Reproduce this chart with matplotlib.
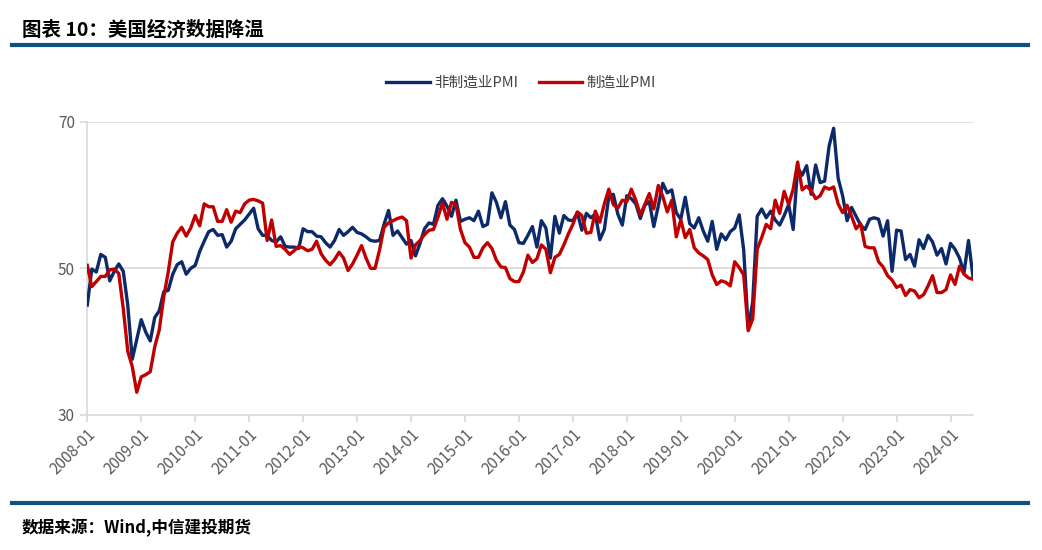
import matplotlib
matplotlib.use("Agg")
import matplotlib.pyplot as plt
import numpy as np

plt.rcParams['font.family'] = ['Noto Sans CJK SC', 'DejaVu Sans']

# ---- data (monthly, 2008-01 .. 2024-06) ----
years = list(range(2008, 2025))
tick_labels = [f"{y}-01" for y in years]

non_mfg_pmi = [
    # 2008
    45.0, 49.9, 49.5, 51.9, 51.5, 48.3, 49.6, 50.6, 49.6, 45.0, 37.6, 40.3,
    # 2009
    43.0, 41.3, 40.1, 43.3, 44.2, 46.8, 47.0, 49.2, 50.5, 50.9, 49.2, 50.0,
    # 2010
    50.4, 52.3, 53.7, 55.0, 55.3, 54.5, 54.6, 52.9, 53.7, 55.4, 56.0, 56.6,
    # 2011
    57.4, 58.2, 55.4, 54.5, 54.5, 53.8, 53.6, 54.3, 53.0, 52.9, 52.9, 52.7,
    # 2012
    55.4, 55.0, 55.0, 54.4, 54.3, 53.5, 52.9, 53.8, 55.3, 54.5, 55.0, 55.6,
    # 2013
    54.9, 54.7, 54.3, 53.8, 53.7, 53.8, 56.0, 57.9, 54.5, 55.1, 54.2, 53.3,
    # 2014
    53.8, 51.7, 53.4, 55.4, 56.2, 56.0, 58.6, 59.5, 58.5, 57.1, 59.3, 56.4,
    # 2015
    56.7, 56.9, 56.5, 57.8, 55.7, 56.0, 60.3, 59.0, 56.9, 59.1, 55.9, 55.3,
    # 2016
    53.5, 53.4, 54.5, 55.7, 52.9, 56.5, 55.5, 51.4, 57.1, 54.8, 57.2, 56.6,
    # 2017
    56.5, 57.6, 55.2, 57.5, 56.9, 57.4, 53.9, 55.3, 59.8, 60.1, 57.4, 55.9,
    # 2018
    59.9, 59.5, 58.8, 56.8, 58.6, 59.1, 55.7, 58.5, 61.6, 60.3, 60.7, 57.6,
    # 2019
    56.7, 59.7, 56.1, 55.5, 56.9, 55.1, 53.7, 56.4, 52.6, 54.7, 53.9, 55.0,
    # 2020
    55.5, 57.3, 52.5, 41.8, 45.4, 57.1, 58.1, 56.9, 57.8, 56.6, 55.9, 57.2,
    # 2021
    58.7, 55.3, 63.7, 62.7, 64.0, 60.1, 64.1, 61.7, 61.9, 66.7, 69.1, 62.3,
    # 2022
    59.9, 56.5, 58.3, 57.1, 55.9, 55.3, 56.7, 56.9, 56.7, 54.4, 56.5, 49.6,
    # 2023
    55.2, 55.1, 51.2, 51.9, 50.3, 53.9, 52.7, 54.5, 53.6, 51.8, 52.7, 50.6,
    # 2024
    53.4, 52.6, 51.4, 49.4, 53.8, 48.8,
]

mfg_pmi = [
    # 2008
    50.4, 47.5, 48.2, 48.9, 48.9, 49.8, 49.9, 49.3, 44.5, 38.7, 36.6, 33.1,
    # 2009
    35.2, 35.5, 35.9, 39.3, 41.6, 46.1, 49.5, 53.6, 54.8, 55.6, 54.4, 55.5,
    # 2010
    57.2, 55.8, 58.8, 58.4, 58.4, 56.4, 56.4, 58.0, 56.3, 57.8, 57.6, 58.8,
    # 2011
    59.3, 59.4, 59.2, 58.9, 53.8, 56.6, 53.0, 53.1, 52.6, 51.9, 52.4, 53.0,
    # 2012
    52.8, 52.4, 52.6, 53.7, 52.0, 51.1, 50.5, 51.2, 52.2, 51.4, 49.7, 50.6,
    # 2013
    51.8, 53.1, 51.4, 50.0, 50.0, 52.5, 55.6, 56.2, 56.5, 56.8, 57.0, 56.5,
    # 2014
    51.4, 53.2, 53.8, 54.6, 55.2, 55.3, 57.0, 58.9, 56.7, 59.0, 58.7, 55.3,
    # 2015
    53.5, 52.9, 51.5, 51.5, 52.8, 53.5, 52.7, 51.1, 50.2, 50.1, 48.6, 48.2,
    # 2016
    48.2, 49.5, 51.8, 50.8, 51.3, 53.2, 52.6, 49.4, 51.5, 51.9, 53.2, 54.7,
    # 2017
    56.0, 57.7, 57.2, 54.8, 54.9, 57.8, 56.3, 58.8, 60.8, 58.7, 58.2, 59.3,
    # 2018
    59.1, 60.8, 59.3, 57.3, 58.7, 60.2, 58.1, 61.3, 59.8, 57.7, 59.3, 54.3,
    # 2019
    56.6, 54.2, 55.3, 52.8, 52.1, 51.7, 51.2, 49.1, 47.8, 48.3, 48.1, 47.6,
    # 2020
    50.9, 50.1, 49.1, 41.5, 43.1, 52.6, 54.2, 56.0, 55.4, 59.3, 57.5, 60.5,
    # 2021
    58.7, 60.8, 64.5, 60.7, 61.2, 60.6, 59.5, 59.9, 61.1, 60.8, 61.1, 58.8,
    # 2022
    57.6, 58.6, 57.1, 55.4, 56.1, 53.0, 52.8, 52.8, 50.9, 50.2, 49.0, 48.4,
    # 2023
    47.4, 47.7, 46.3, 47.1, 46.9, 46.0, 46.4, 47.6, 49.0, 46.7, 46.7, 47.1,
    # 2024
    49.1, 47.8, 50.3, 49.2, 48.7, 48.5,
]

series_names = ["非制造业PMI", "制造业PMI"]
y_ticks = [30, 50, 70]

# ---- figure ----
W, H = 1042, 550
fig = plt.figure(figsize=(W / 100, H / 100), dpi=100)

navy = "#0C2A6A"
red = "#C00000"
bar_blue = "#0E5282"
grid_c = "#D9D9D9"
txt_c = "#595959"

ax = fig.add_axes([87.3 / W, 1 - 415 / H, (973 - 87.3) / W, (415 - 121.7) / H])

x = np.arange(len(non_mfg_pmi))
l1, = ax.plot(x, non_mfg_pmi, color=navy, lw=2.4, solid_joinstyle='round', zorder=3)
l2, = ax.plot(np.arange(len(mfg_pmi)), mfg_pmi, color=red, lw=2.4, solid_joinstyle='round', zorder=4)

ax.set_xlim(0, len(non_mfg_pmi) - 1)
ax.set_ylim(30, 70)
ax.set_yticks(y_ticks)
ax.set_yticklabels([str(v) for v in y_ticks])
ax.set_xticks(np.arange(0, len(non_mfg_pmi), 12))
ax.set_xticklabels(tick_labels, rotation=45, ha='right', va='top',
                   rotation_mode='anchor')

for v in y_ticks[1:]:
    ax.axhline(v, color=grid_c, lw=1.2, zorder=1)

for s in ['top', 'right']:
    ax.spines[s].set_visible(False)
for s in ['left', 'bottom']:
    ax.spines[s].set_color(grid_c)
    ax.spines[s].set_linewidth(1.2)

ax.tick_params(axis='x', colors=grid_c, length=5, width=1.2, labelcolor=txt_c,
               labelsize=11, pad=3)
ax.tick_params(axis='y', colors=grid_c, length=5, width=1.2, labelcolor=txt_c,
               labelsize=11, pad=4)

fig.legend([l1, l2], series_names, loc='center', bbox_to_anchor=(0.5, 1 - 83 / H),
           ncol=2, frameon=False, fontsize=10.5, handlelength=3.0,
           columnspacing=1.4, handletextpad=0.3, labelcolor='#404040')

# title and decorations
fig.text(22 / W, 1 - 30 / H, "图表 10：美国经济数据降温", fontsize=14, fontweight='bold',
         ha='left', va='center', color='black')
fig.add_artist(plt.Line2D([12 / W, 1028 / W], [1 - 45 / H, 1 - 45 / H],
                          color=bar_blue, lw=3, transform=fig.transFigure))
fig.add_artist(plt.Line2D([12 / W, 1028 / W], [1 - 503 / H, 1 - 503 / H],
                          color=bar_blue, lw=3, transform=fig.transFigure))
fig.text(22 / W, 1 - 528 / H, "数据来源：Wind,中信建投期货", fontsize=12,
         fontweight='bold', style='italic', ha='left', va='center', color='black')

fig.savefig("out.png", dpi=100)
